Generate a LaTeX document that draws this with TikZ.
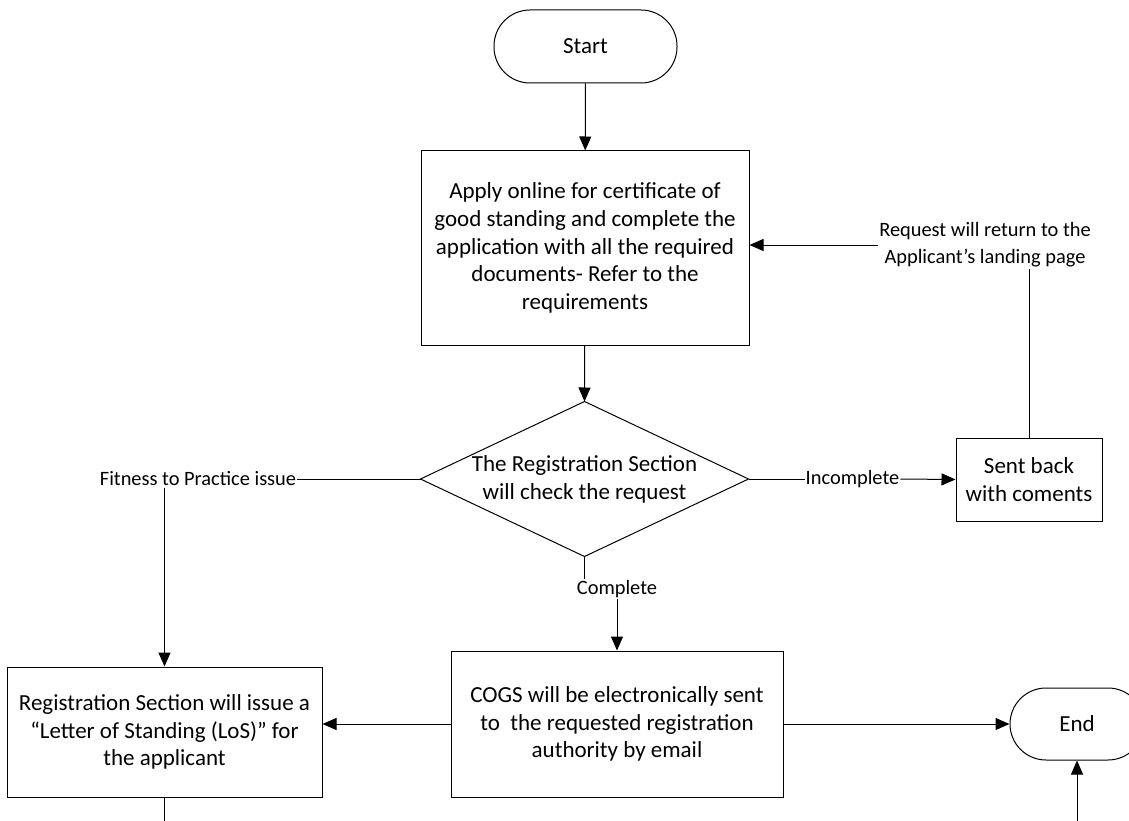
\documentclass[tikz,border=0pt]{standalone}
\usepackage{fontspec}
\setmainfont{Carlito}
\usetikzlibrary{arrows.meta}
\tikzset{
  every picture/.style={line width=1pt},
  box/.style={draw, line width=1pt, align=center, inner sep=0pt, font=\fontsize{23}{27.8}\selectfont},
  term/.style={box, rounded corners=36pt},
  lbl/.style={align=center, inner xsep=0.5pt, inner ysep=1pt, font=\fontsize{20.4}{27}\selectfont},
  arr/.style={-{Triangle[length=14pt,width=12pt]}},
}
\begin{document}
\begin{tikzpicture}[x=1pt,y=-1pt]
\useasboundingbox (0,0) rectangle (1129,821);
\node[term, minimum width=183pt, minimum height=73pt] (start) at (585.5,46.5) {Start};
\node[box, minimum width=328pt, minimum height=194pt] (apply) at (585,248)
  {Apply online for certificate of\\good standing and complete the\\application with all the required\\documents- Refer to the\\requirements};
\node[inner sep=0pt, minimum width=327pt, minimum height=154pt, align=center, font=\fontsize{23}{27.8}\selectfont] (dia) at (584.5,479)
  {The Registration Section\\will check the request};
\draw (dia.north) -- (dia.east) -- (dia.south) -- (dia.west) -- cycle;
\node[lbl] (fit) at (198,479) {Fitness to Practice issue};
\node[lbl] (inc) at (852.5,479) {Incomplete};
\node[lbl] (comp) at (617,589) {Complete};
\node[box, minimum width=146pt, minimum height=83pt] (back) at (1029,479.5) {Sent back\\with coments};
\node[lbl] (ret) at (985,245) {Request will return to the\\Applicant’s landing page};
\node[box, minimum width=315pt, minimum height=130pt] (los) at (164.5,732)
  {Registration Section will issue a\\“Letter of Standing (LoS)” for\\the applicant};
\node[box, minimum width=332pt, minimum height=146pt] (cogs) at (617,724)
  {COGS will be electronically sent\\to\ \ the requested registration\\authority by email};
\node[term, minimum width=134pt, minimum height=72pt] (end) at (1077,724) {End};
\coordinate (losout) at (164.5,821);
\coordinate (endin) at (1077,821);
\draw[arr] (start) -- (apply);
\draw[arr] (apply) -- (dia.north);
\draw (dia.west) -- (fit.east);
\draw[arr] (fit.south -| los.north) -- (los.north);
\draw (dia.east) -- (inc.west);
\draw[arr] (inc.east) -- (back.west);
\draw (dia.south) -- (dia.south |- comp.north);
\draw[arr] (comp.south) -- (cogs.north);
\draw (back.north) -- (back.north |- ret.south);
\draw[arr] (ret.west) -- (apply.east |- ret.west);
\draw[arr] (cogs.west) -- (cogs.west -| los.east);
\draw[arr] (cogs.east) -- (end.west);
\draw[arr] (endin) -- (end.south);
\draw (los.south) -- (losout);
\end{tikzpicture}
\end{document}
